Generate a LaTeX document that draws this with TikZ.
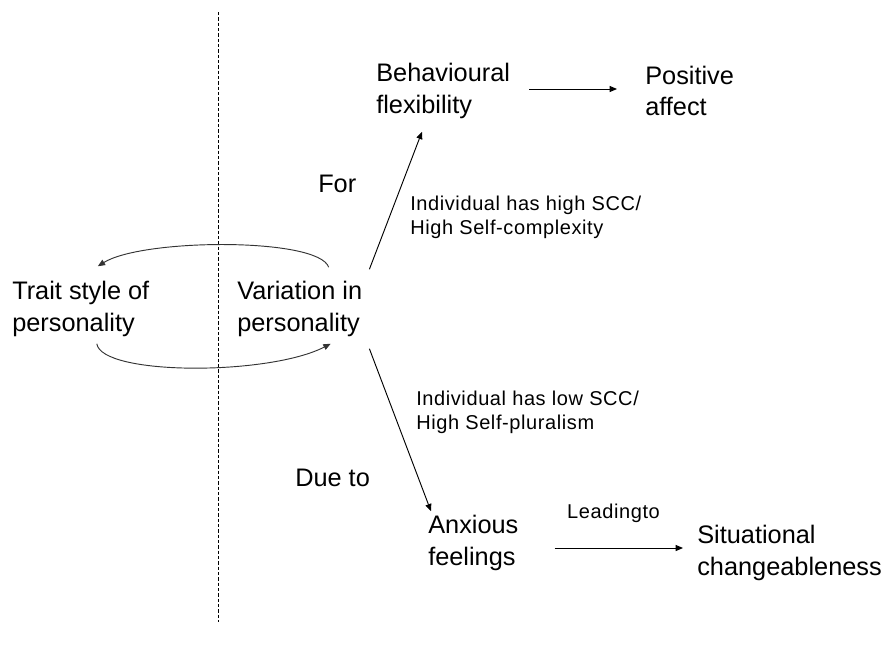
\documentclass[tikz,border=0pt]{standalone}
\usepackage{fontspec}
\setmainfont{Liberation Sans}
\newfontfamily\notefont[LetterSpace=3]{Liberation Sans}
\usetikzlibrary{arrows.meta,calc}

\tikzset{
  term/.style={inner sep=0pt, anchor=west, align=left, font=\fontsize{19}{23.5}\selectfont},
  note/.style={inner sep=0pt, anchor=west, align=left, font=\notefont\fontsize{15}{18}\selectfont},
  arr/.style={-{Triangle[length=5.5pt,width=4.5pt]}, line width=0.7pt},
}

\begin{document}
\begin{tikzpicture}[x=0.75pt, y=-0.75pt]
  \useasboundingbox (0,0) rectangle (881,651);

  % Divider
  \draw[dash pattern=on 2.5pt off 1.5pt, line width=0.6pt] (218,12) -- (218,622);

  % Personality terms
  \node[term] (trait) at (12,309) {Trait style of\\personality};
  \node[term] (var) at (237,309) {Variation in\\personality};

  % Upper branch
  \node[term] (behav) at (376,91) {Behavioural\\flexibility};
  \node[term] (pos) at (645,91) {Positive\\affect};
  \node[term] (for) at (318,184) {For};
  \node[note] (high) at (410,217) {Individual has high SCC/\\High Self-complexity};

  % Lower branch
  \node[term] (anx) at (428,543) {Anxious\\feelings};
  \node[term] (sit) at (697,553) {Situational\\changeableness};
  \node[term] (due) at (295,478) {Due to};
  \node[note] (low) at (416,412) {Individual has low SCC/\\High Self-pluralism};

  % Loop between trait and variation
  \draw[arr, black!80] ($(var.north)+(29,-14)$) .. controls +(-10,-30) and +(45,-28) .. ($(trait.north)+(17,-15)$);
  \draw[arr, black!80] ($(trait.south)+(16,7)$) .. controls +(5,32) and +(-62,32) .. ($(var.south)+(31,7)$);

  % Connectors
  \draw[arr] ($(var.north east)+(7,-12)$) -- ($(behav.south west)+(46,13)$);
  \draw[arr] ($(var.south east)+(7,12)$) -- ($(anx.north west)+(3,-4)$);
  \draw[arr] ($(behav.east)+(19,-2)$) -- ($(pos.west)+(-28,-2)$);
  \draw[arr] ($(anx.east)+(36,5)$) -- ($(sit.west)+(-14,-5)$)
    node[note, anchor=south, midway, yshift=19pt, xshift=-4pt] (lead) {Leadingto};
\end{tikzpicture}
\end{document}
